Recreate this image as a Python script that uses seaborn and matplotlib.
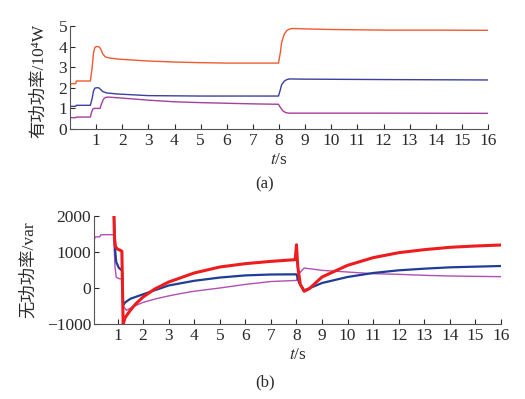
import numpy as np
import pandas as pd
import seaborn as sns
import matplotlib
matplotlib.use("Agg")
import matplotlib.pyplot as plt

# ---------------- data: (a) active power, 10^4 W ----------------
t_red_a = [0, 0.02, 0.22, 0.24, 0.78, 0.85, 0.9, 0.95, 1.0, 1.1, 1.17, 1.25, 1.35, 1.5, 1.8, 2, 3, 4, 5, 6, 7, 7.98,
           8.05, 8.1, 8.2, 8.3, 8.4, 8.5, 9, 10, 12, 14, 16]
p_red_a = [1.6, 2.2, 2.2, 2.33, 2.33, 3.0, 3.7, 3.95, 4.0, 4.0, 3.9, 3.65, 3.5, 3.45, 3.4, 3.38, 3.3, 3.25, 3.22, 3.2, 3.2, 3.2,
           3.7, 4.2, 4.6, 4.78, 4.85, 4.88, 4.86, 4.83, 4.8, 4.8, 4.79]

t_blue_a = [0, 0.02, 0.22, 0.24, 0.78, 0.85, 0.9, 0.95, 1.0, 1.1, 1.17, 1.25, 1.4, 1.8, 3, 5, 7, 7.98,
            8.05, 8.1, 8.2, 8.3, 8.4, 9, 12, 16]
p_blue_a = [0.9, 1.1, 1.1, 1.15, 1.15, 1.5, 1.85, 1.98, 2.0, 2.0, 1.92, 1.82, 1.75, 1.7, 1.62, 1.6, 1.6, 1.6,
            1.9, 2.15, 2.32, 2.4, 2.43, 2.42, 2.4, 2.38]

t_pur_a = [0, 0.02, 0.22, 0.24, 0.78, 0.82, 0.88, 0.92, 1.15, 1.2, 1.28, 1.35, 1.45, 2, 3, 4, 5, 6, 7, 7.98,
           8.05, 8.15, 8.25, 8.35, 9, 12, 16]
p_pur_a = [0.45, 0.55, 0.55, 0.58, 0.58, 0.8, 0.98, 1.0, 1.0, 1.2, 1.45, 1.53, 1.55, 1.5, 1.4, 1.32, 1.28, 1.25, 1.22, 1.2,
           1.05, 0.88, 0.8, 0.77, 0.77, 0.77, 0.76]

# ---------------- data: (b) reactive power, var ----------------
t_red_b = [0.85, 0.88, 0.92, 1.0, 1.1, 1.17, 1.22, 1.3, 1.5, 1.7, 2, 2.45, 3, 4, 5, 6, 7, 7.95,
           8.0, 8.05, 8.15, 8.3, 8.5, 9, 10, 11, 12, 13, 14, 15, 16]
q_red_b = [2300, 1400, 1150, 1080, 1050, 1020, -1000, -820, -620, -450, -250, -30, 166, 417, 583, 676, 740, 787,
           1200, 600, 100, -93, -20, 306, 630, 843, 981, 1065, 1130, 1167, 1194]

t_blue_b = [0.85, 0.9, 0.95, 1.05, 1.15, 1.18, 1.22, 1.3, 1.5, 1.9, 2.3, 2.8, 3, 4, 5, 6, 7, 8.0,
            8.1, 8.3, 8.6, 9, 10, 11, 12, 13, 14, 15, 16]
q_blue_b = [2300, 1100, 720, 560, 500, 480, -480, -400, -300, -200, -100, 20, 70, 200, 290, 350, 375, 380,
            150, -65, 20, 139, 306, 417, 491, 537, 574, 593, 611]

t_pur_b = [0.08, 0.12, 0.3, 0.35, 0.85, 0.9, 0.95, 1.05, 1.18, 1.22, 1.35, 1.6, 2, 2.5, 3, 3.5, 4, 5, 6, 7, 8.0,
           8.1, 8.3, 9, 10, 11, 12, 13, 14, 15, 16]
q_pur_b = [1300, 1420, 1420, 1480, 1480, 600, 300, 260, 250, -500, -620, -520, -400, -300, -220, -150, -90, 0, 100, 180, 210,
           400, 555, 490, 444, 398, 380, 352, 333, 324, 315]

xticks = list(range(1, 17))
yticks_a = [0, 1, 2, 3, 4, 5]
yticks_b = [-1000, 0, 1000, 2000]
yticklabels_b = ["\u22121000", "0", "1000", "2000"]

# ---------------- style ----------------
sns.set_style("ticks")
plt.rcParams['font.family'] = ['Liberation Serif', 'Noto Sans CJK SC', 'DejaVu Sans']
plt.rcParams['mathtext.fontset'] = 'stix'

TXT = '#2a2a2a'

fig = plt.figure(figsize=(5.25, 3.99), dpi=100)
ax1 = fig.add_axes([70 / 525, 1 - 129 / 399, 418 / 525, 103 / 399])
ax2 = fig.add_axes([94 / 525, 1 - 324 / 399, 407 / 525, 108 / 399])

sns.lineplot(x=t_red_a, y=p_red_a, ax=ax1, color="#ef5a30", lw=1.0)
sns.lineplot(x=t_blue_a, y=p_blue_a, ax=ax1, color="#3d3f9c", lw=1.0)
sns.lineplot(x=t_pur_a, y=p_pur_a, ax=ax1, color="#a4409e", lw=1.0)

sns.lineplot(x=t_pur_b, y=q_pur_b, ax=ax2, color="#b04fb4", lw=1.0)
sns.lineplot(x=t_blue_b, y=q_blue_b, ax=ax2, color="#1f3c98", lw=1.6)
sns.lineplot(x=t_red_b, y=q_red_b, ax=ax2, color="#ee1d1d", lw=2.2)

ax1.set_xlim(0, 16)
ax1.set_ylim(0, 5)
ax2.set_xlim(0.08, 16)
ax2.set_ylim(-1000, 2000)

for ax in (ax1, ax2):
    ax.set_xticks(xticks)
    ax.tick_params(direction='in', length=3.5, width=0.8, labelsize=12.5, colors=TXT)
    ax.tick_params(axis='x', pad=3)
    ax.tick_params(axis='y', pad=2)
    for s in ('top', 'right'):
        ax.spines[s].set_visible(False)
    for s in ('left', 'bottom'):
        ax.spines[s].set_color('#555555')
        ax.spines[s].set_linewidth(0.8)
    ax.set_xlabel("$t$/s", fontsize=12.5, color=TXT, va='top')

ax1.set_yticks(yticks_a)
ax2.set_yticks(yticks_b)
ax2.set_yticklabels(yticklabels_b)

ax1.set_ylabel("有功功率/10⁴W", fontsize=12.5, color=TXT)
ax2.set_ylabel("无功功率/var", fontsize=12.5, color=TXT)

ax1.xaxis.set_label_coords(0.5, -0.22)
ax2.xaxis.set_label_coords(0.5, -0.21)
ax1.yaxis.set_label_coords(-0.055, 0.47)
ax2.yaxis.set_label_coords(-0.14, 0.5)

fig.text(265 / 525, 1 - 184 / 399, "(a)", ha='center', va='center', fontsize=12, color=TXT)
fig.text(265 / 525, 1 - 382 / 399, "(b)", ha='center', va='center', fontsize=12, color=TXT)

fig.savefig("out.png", dpi=100)
